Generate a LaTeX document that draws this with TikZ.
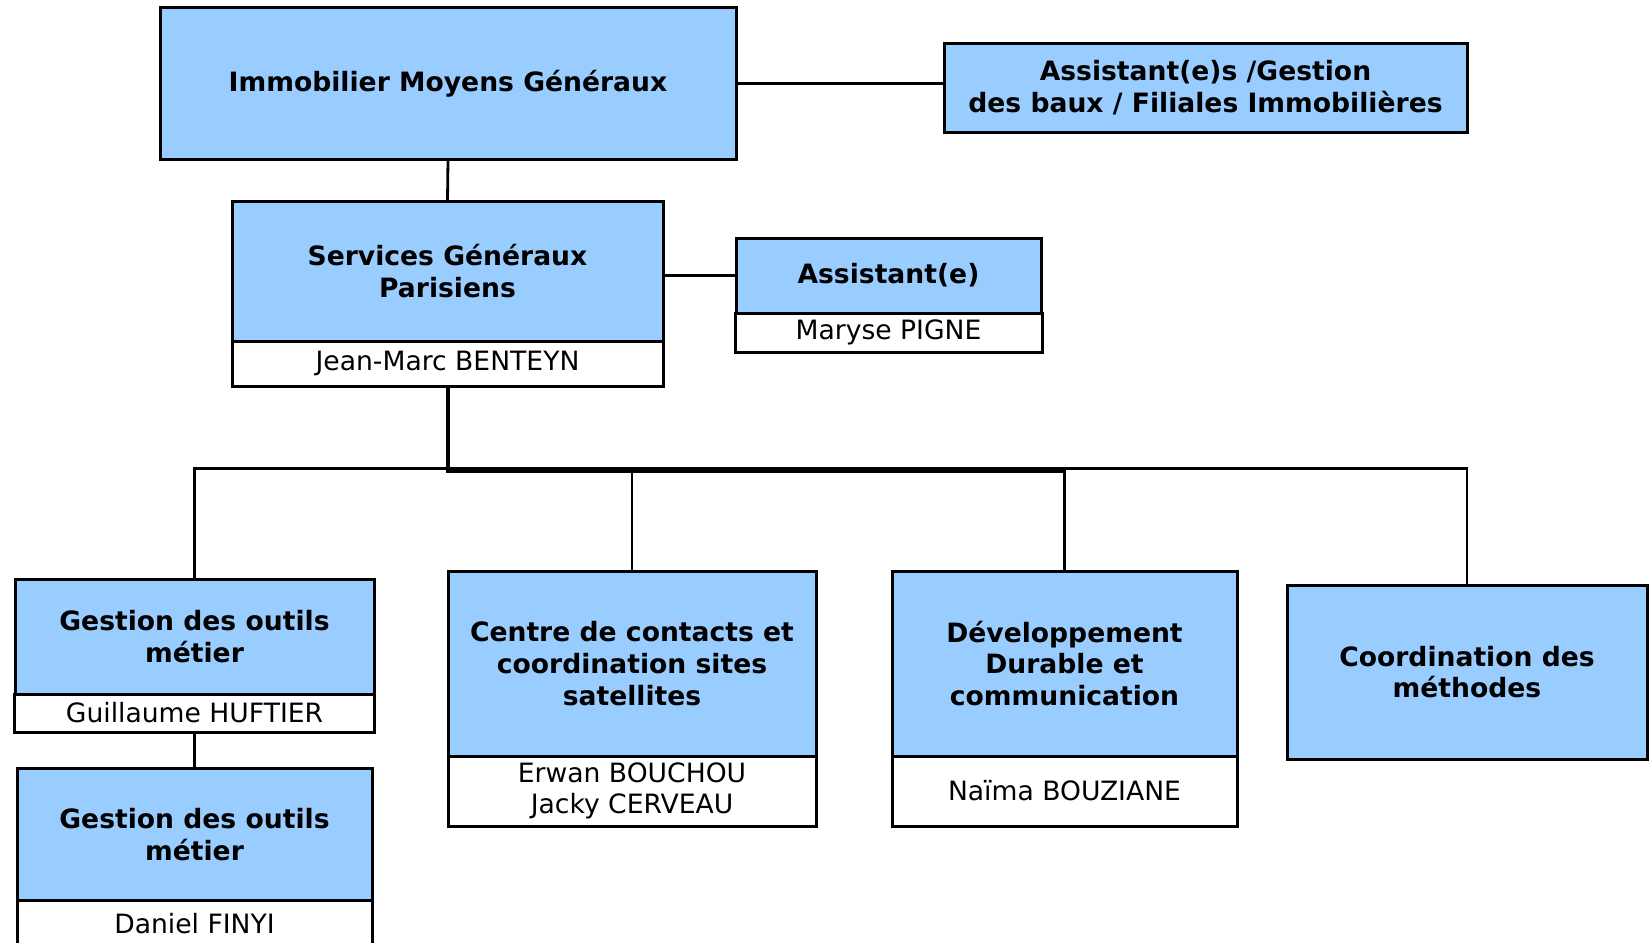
\documentclass[tikz,border=0pt]{standalone}
\usepackage{fontspec}
\setmainfont{DejaVu Sans}
\usetikzlibrary{positioning}
\definecolor{unitblue}{HTML}{99CCFF}
\begin{document}
\begin{tikzpicture}[
 x=.5pt,y=-.5pt,
 unit/.style={draw,line width=1.5pt,fill=unitblue,inner sep=0pt,outer sep=0pt,
  align=center,font=\bfseries\fontsize{13.3}{15.8}\selectfont},
 person/.style={draw,line width=1.5pt,fill=white,inner sep=0pt,outer sep=0pt,
  align=center,font=\fontsize{13.3}{15.8}\selectfont},
 link/.style={line width=1.4pt},
 trunk/.style={line width=2pt}]
 \useasboundingbox (0,0) rectangle (1651,943);
 % Direction and its assistants.
 \node[unit,minimum width=288pt,minimum height=76pt] (top) at (448,83.5)
  {Immobilier Moyens Généraux};
 \node[unit,minimum width=261.5pt,minimum height=44.5pt] (baux) at (1205.5,87.5)
  {Assistant(e)s /Gestion\\des baux / Filiales Immobilières};
 % Services generaux and assistant.
 \node[unit,minimum width=215.5pt,minimum height=70pt] (sgp) at (447.5,271)
  {Services Généraux\\Parisiens};
 \node[person,minimum width=215.5pt,minimum height=22.5pt,below=0pt of sgp] (sgpname)
  {Jean-Marc BENTEYN};
 \node[unit,minimum width=152.5pt,minimum height=37.5pt] (asst) at (888.5,275.5)
  {Assistant(e)};
 \node[person,minimum width=153.5pt,minimum height=19.5pt,below=0pt of asst] (asstname)
  {Maryse PIGNE};
 % Poles under the services generaux.
 \node[unit,minimum width=179.5pt,minimum height=57.5pt] (outils) at (194.5,636.5)
  {Gestion des outils\\métier};
 \node[person,minimum width=180pt,minimum height=19pt,below=0pt of outils] (outilsname)
  {Guillaume HUFTIER};
 \node[unit,minimum width=177.5pt,minimum height=66pt] (outilsb) at (194.5,834.75)
  {Gestion des outils\\métier};
 \node[person,minimum width=177.5pt,minimum height=23pt,below=0pt of outilsb] (outilsbname)
  {Daniel FINYI};
 \node[unit,minimum width=184pt,minimum height=92.5pt] (contacts) at (632,663.5)
  {Centre de contacts et\\coordination sites\\satellites};
 \node[person,minimum width=184pt,minimum height=35pt,below=0pt of contacts] (contactsname)
  {Erwan BOUCHOU\\Jacky CERVEAU};
 \node[unit,minimum width=172.5pt,minimum height=92.5pt] (durable) at (1064.5,663.5)
  {Développement\\Durable et\\communication};
 \node[person,minimum width=172.5pt,minimum height=35pt,below=0pt of durable] (durablename)
  {Naïma BOUZIANE};
 \node[unit,minimum width=180pt,minimum height=87pt] (methodes) at (1467,672)
  {Coordination des\\méthodes};
 % Connectors.
 \coordinate (bus) at (0,468.5);
 \coordinate (busb) at (0,471);
 \draw[link] (top.east) -- (top.east -| baux.west);
 \draw[link] (top.south) -- (sgp.north);
 \draw[link] (asst.west -| sgp.east) -- (asst.west);
 \draw[trunk] (sgpname.south) -- (sgpname.south |- busb) -- (durable.north |- busb);
 \draw[link] (outils.north) -- (outils.north |- bus) -- (methodes.north |- bus) -- (methodes.north);
 \draw[link] (contacts.north) -- (contacts.north |- bus);
 \draw[link] (durable.north) -- (durable.north |- bus);
 \draw[link] (outilsname.south) -- (outilsb.north);
\end{tikzpicture}
\end{document}
